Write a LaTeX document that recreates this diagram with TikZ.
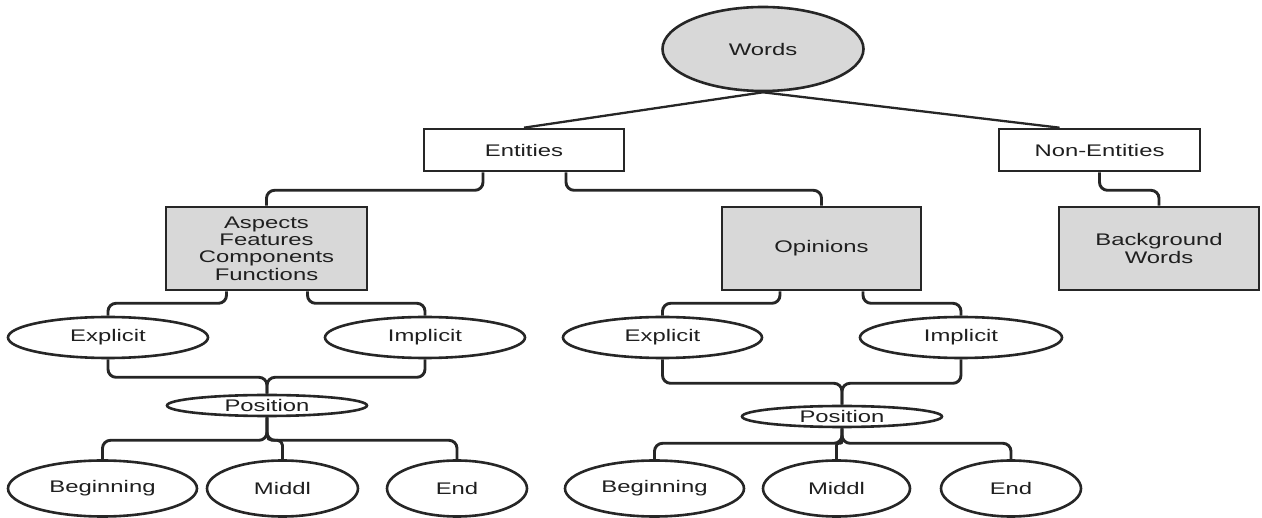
\documentclass[tikz,border=0pt]{standalone}
\usepackage{fontspec}
\setmainfont{Liberation Sans}[FakeStretch=1.42]
\usetikzlibrary{shapes.geometric}
\definecolor{ln}{HTML}{262626}
\definecolor{gf}{HTML}{D8D8D8}
\tikzset{
  base/.style={draw=ln, line width=2.6pt, inner sep=0pt, align=center, text=black!88,
    font=\fontsize{16.8}{17.4}\selectfont},
  wbox/.style={base, rectangle, fill=white},
  gbox/.style={base, rectangle, fill=gf},
  oval/.style={base, ellipse, fill=white},
  line/.style={draw=ln, line width=2.3pt},
  conn/.style={draw=ln, line width=2.9pt, rounded corners=8pt},
}
\begin{document}
\begin{tikzpicture}[x=1pt,y=-1pt]
\useasboundingbox (0,0) rectangle (1262,518);
% nodes
\node[oval, fill=gf, minimum width=201pt, minimum height=84pt] (words) at (763,49) {Words};
\node[wbox, minimum width=200pt, minimum height=42pt] (ent) at (524,150) {Entities};
\node[wbox, minimum width=201pt, minimum height=42pt] (nonent) at (1099.5,150) {Non-Entities};
\node[gbox, minimum width=201pt, minimum height=83pt] (asp) at (266.5,248.5) {Aspects\\Features\\Components\\Functions};
\node[gbox, minimum width=199pt, minimum height=83pt] (opi) at (821.5,248.5) {Opinions};
\node[gbox, minimum width=200pt, minimum height=83pt] (bg) at (1159,248.5) {Background\\Words};
\node[oval, minimum width=200pt, minimum height=41pt] (ex1) at (108,337.5) {Explicit};
\node[oval, minimum width=200pt, minimum height=41pt] (im1) at (425,337.5) {Implicit};
\node[oval, minimum width=200pt, minimum height=21pt] (pos1) at (267,405.5) {Position};
\node[oval, minimum width=189pt, minimum height=56pt] (beg1) at (102.5,488.5) {Beginning};
\node[oval, minimum width=151pt, minimum height=56pt] (mid1) at (282.5,488.5) {Middl};
\node[oval, minimum width=140pt, minimum height=56pt] (end1) at (457,488.5) {End};
\node[oval, minimum width=199pt, minimum height=41pt] (ex2) at (662.5,337.5) {Explicit};
\node[oval, minimum width=202pt, minimum height=41pt] (im2) at (961,337.5) {Implicit};
\node[oval, minimum width=200pt, minimum height=21pt] (pos2) at (842,416.5) {Position};
\node[oval, minimum width=179pt, minimum height=56pt] (beg2) at (654.5,488.5) {Beginning};
\node[oval, minimum width=147pt, minimum height=56pt] (mid2) at (836.5,488.5) {Middl};
\node[oval, minimum width=140pt, minimum height=56pt] (end2) at (1011,488.5) {End};
% connectors
\draw[line] (words.south) -- (ent.north);
\draw[line] (words.south) -- ([xshift=-40pt]nonent.north);
\draw[conn] ([xshift=-41pt]ent.south) -- ++(0,18) -| (asp.north);
\draw[conn] ([xshift=42pt]ent.south) -- ++(0,18) -| (opi.north);
\draw[conn] (nonent.south) -- ++(0,18) -| (bg.north);
\draw[conn] ([xshift=-40pt]asp.south) -- ++(0,12) -| (ex1.north);
\draw[conn] ([xshift=41pt]asp.south) -- ++(0,12) -| (im1.north);
\draw[conn] ([xshift=-41.5pt]opi.south) -- ++(0,12) -| (ex2.north);
\draw[conn] ([xshift=41.5pt]opi.south) -- ++(0,12) -| (im2.north);
\draw[conn] (ex1.south) -- ++(0,18) -| (pos1.north);
\draw[conn] (im1.south) -- ++(0,18) -| (pos1.north);
\draw[conn] (ex2.south) -- ++(0,24) -| (pos2.north);
\draw[conn] (im2.south) -- ++(0,24) -| (pos2.north);
\draw[conn] (pos1.south) -- ++(0,23) -| (beg1.north);
\draw[conn, rounded corners=5pt] (pos1.south) -- ++(0,23) -| (mid1.north);
\draw[conn] (pos1.south) -- ++(0,23) -| (end1.north);
\draw[conn] (pos2.south) -- ++(0,15) -| (beg2.north);
\draw[conn, rounded corners=2pt] (pos2.south) -- ++(0,15) -| (mid2.north);
\draw[conn] (pos2.south) -- ++(0,15) -| (end2.north);
\end{tikzpicture}
\end{document}
